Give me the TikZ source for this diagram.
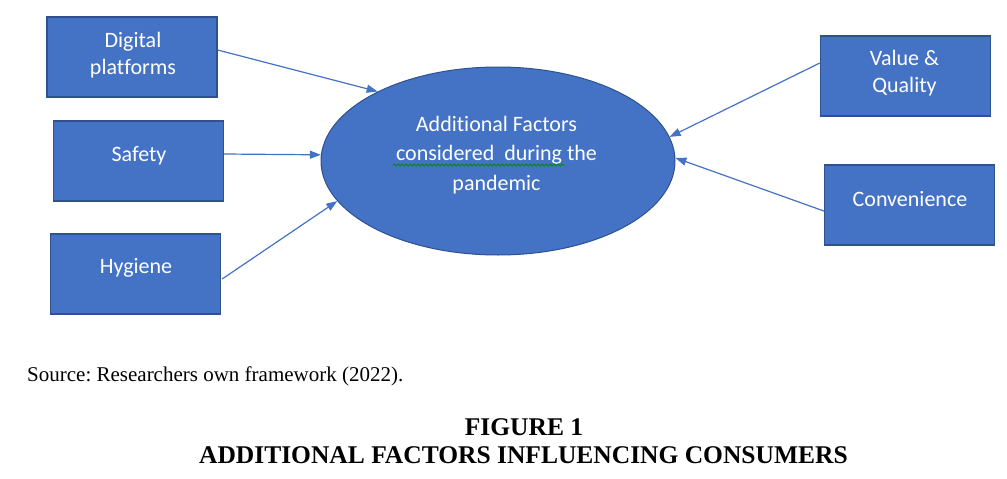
\documentclass[tikz,border=0pt]{standalone}
\usepackage{fontspec}
\setmainfont{Liberation Serif}
\newfontfamily\boxfont[Ligatures=NoCommon]{Carlito}
\usetikzlibrary{arrows.meta,calc,shapes.geometric,decorations.pathmorphing}
\definecolor{offblue}{HTML}{4472C4}
\definecolor{offedge}{HTML}{2F528F}
\tikzset{
  fbox/.style={draw=offedge,line width=1.3pt,fill=offblue,minimum width=170pt,minimum height=80pt,inner sep=0pt},
  lbl/.style={text=white,font=\boxfont\fontsize{22}{27}\selectfont,align=center,inner sep=0pt},
  arr/.style={draw=offblue,line width=1.2pt,-{Triangle[length=11pt,width=8pt]}},
  captext/.style={inner sep=0pt,text=black}
}
\frenchspacing
\begin{document}
\begin{tikzpicture}[x=1pt,y=-1pt]
\useasboundingbox (0,0) rectangle (1007,479);
\fill[white] (0,0) rectangle (1007,479);
% boxes
\node[fbox] (dig) at (132,57) {};
\node[fbox] (saf) at (138.5,161) {};
\node[fbox] (hyg) at (135.5,274) {};
\node[fbox] (val) at (905.5,76) {};
\node[fbox] (con) at (909.5,205) {};
% ellipse
\node[ellipse,draw=offedge,line width=1pt,fill=offblue,minimum width=354pt,minimum height=188pt,inner sep=0pt] (ell) at (498,161) {};
% labels
\node[lbl] (tdig) at (133,55) {Digital\\platforms};
\node[lbl] (tsaf) at (139,156) {Safety};
\node[lbl] (thyg) at (136,268) {Hygiene};
\node[lbl] (tval) at (904.5,73.5) {Value \&\\Quality};
\node[lbl] (tcon) at (910,199) {Convenience};
\node[lbl,font=\boxfont\fontsize{22}{29.5}\selectfont] (tell) at (496.5,155) {Additional Factors\\considered\ \ during the\\pandemic};
\draw[green!55!black,line width=0.8pt,decorate,decoration={snake,amplitude=1pt,segment length=4pt}] (393,165) -- (565,165);
% arrows
\draw[arr] ($(dig.east)+(0,-7)$) -- (ell.150);
\draw[arr] ($(saf.east)+(0,-7)$) -- (ell.178);
\draw[arr] ($(hyg.east)+(1,5)$) -- (ell.194.5);
\draw[arr] ($(val.west)+(0,-13)$) -- (ell.8.7);
\draw[arr] ($(con.west)+(0,6)$) -- (ell.1);
% caption
\node[captext,anchor=base west,font=\fontsize{21}{25}\selectfont] (src) at (27,381) {Source: Researchers own framework (2022).};
\node[captext,anchor=base,font=\bfseries\fontsize{25.5}{30}\selectfont] (fig) at (524,435) {FIGURE 1};
\node[captext,anchor=base,font=\bfseries\fontsize{25.5}{30}\selectfont] (ttl) at (523.5,463) {ADDITIONAL FACTORS INFLUENCING CONSUMERS};
\end{tikzpicture}
\end{document}
